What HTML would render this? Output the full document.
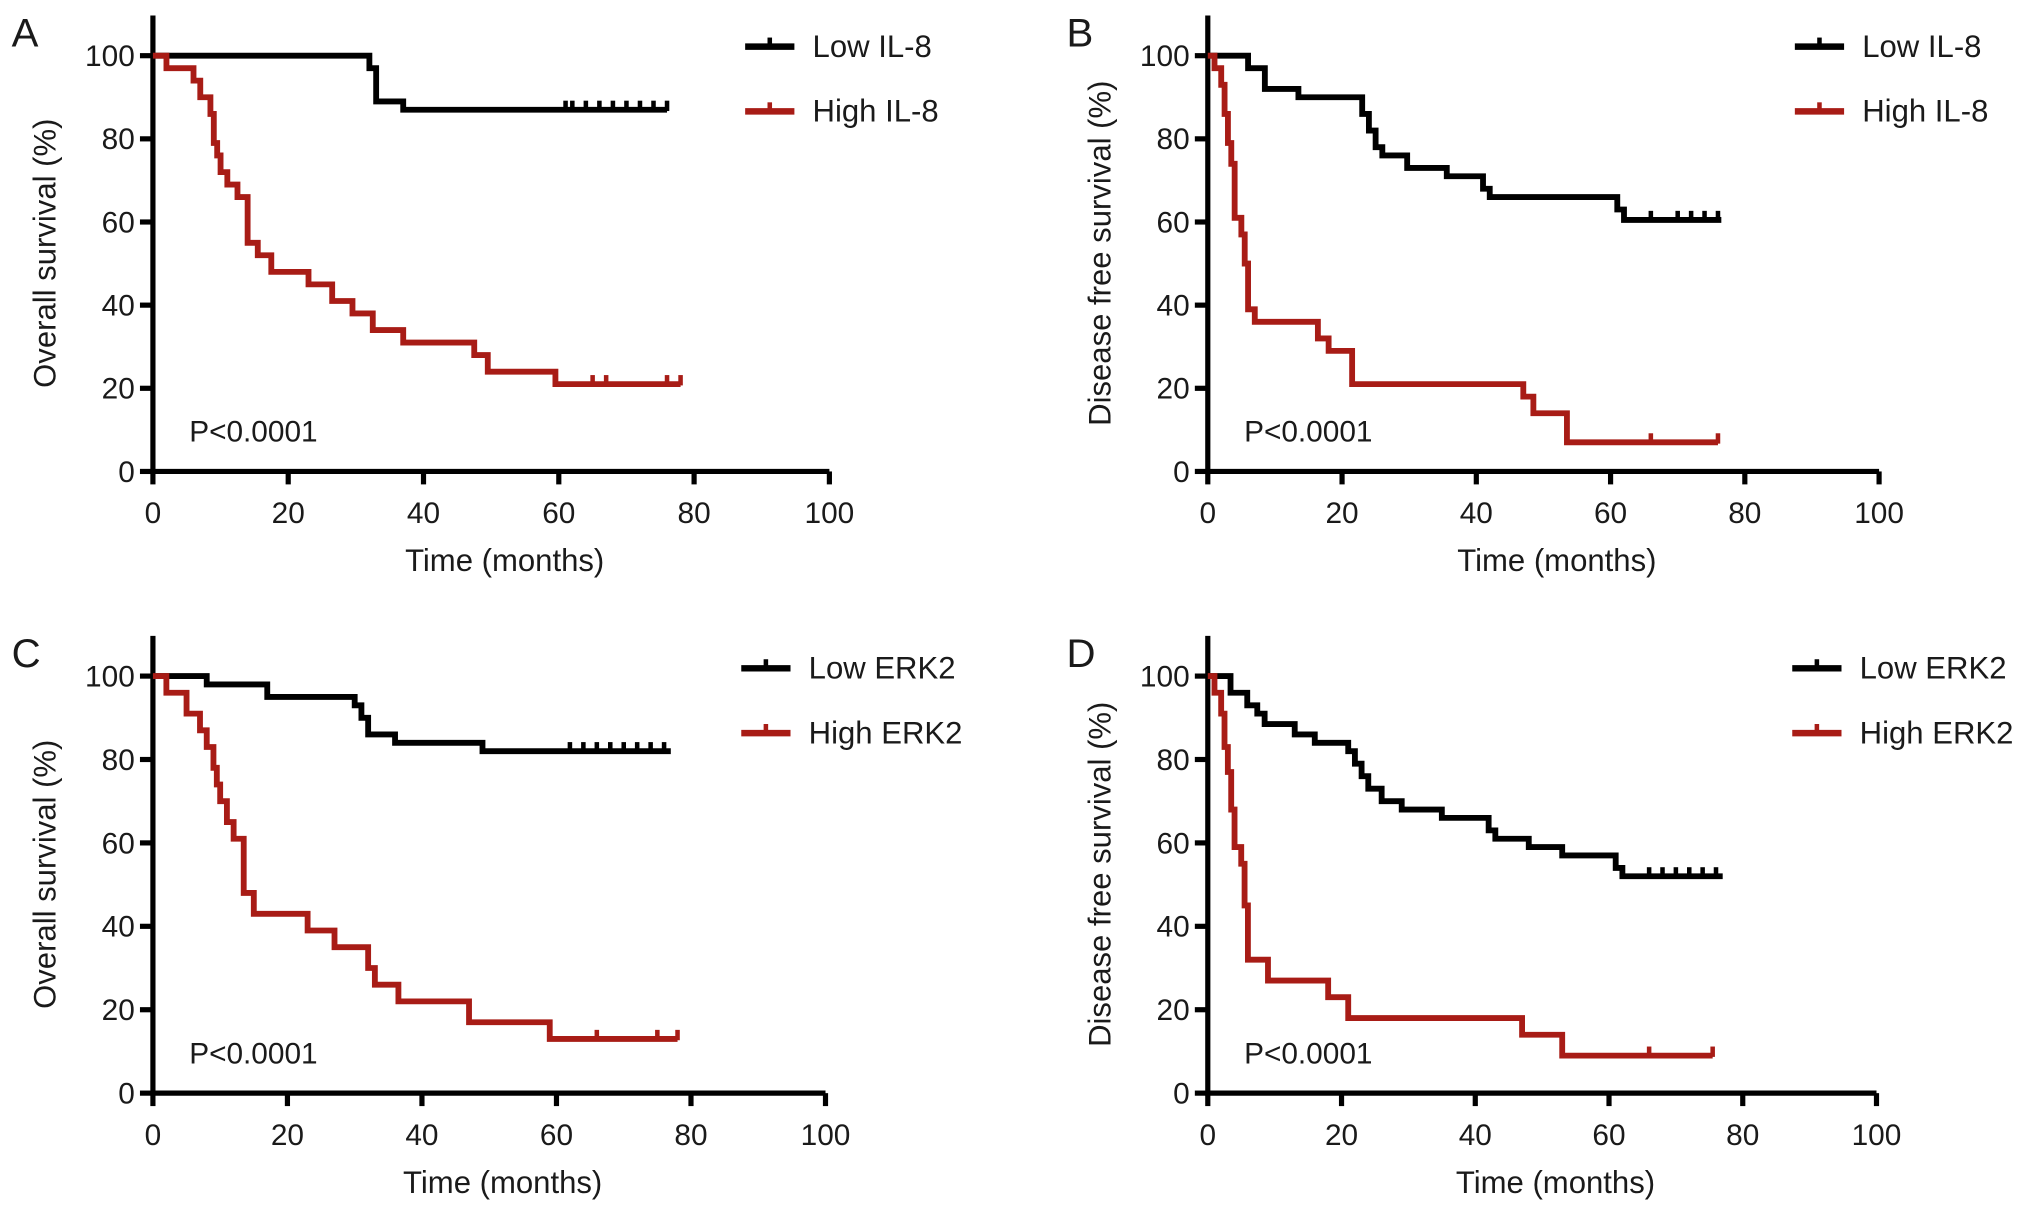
<!DOCTYPE html>
<html><head><meta charset="utf-8"><style>
html,body{margin:0;padding:0;background:#fff}
svg{display:block}
text{font-family:"Liberation Sans",Arial,sans-serif;fill:#1a1a1a}
</style></head><body>
<svg id="fig" width="2032" height="1211" viewBox="0 0 1568 935" preserveAspectRatio="none" xmlns="http://www.w3.org/2000/svg"></svg>
<script>
// Panel A
const aLowT=[0,32,33,37,76];const aLowS=[100,97,89,87,87];const aLowC=[61,62,64,66,68,70,72,74,76];
const aHighT=[0,2,6,7,8.5,9,9.5,10,11,12.5,14,15.5,17.5,23,26.5,29.5,32.5,37,47.5,49.5,59.5,78];
const aHighS=[100,97,94,90,86,79,76,72,69,66,55,52,48,45,41,38,34,31,28,24,21,21];const aHighC=[65,67,76,78];
// Panel B
const bLowT=[0,6,8.5,13.5,23,24,25,26,29.7,35.6,41,42,61,62,76.5];
const bLowS=[100,97,92,90,86,82,78,76,73,71,68,66,63,60.5,60.5];const bLowC=[66,70,72,74,76];
const bHighT=[0,1,2,2.5,3,3.5,4,5,5.5,6,7,16.4,18,21.5,47,48.5,53.5,76];
const bHighS=[100,97,93,86,79,74,61,57,50,39,36,32,29,21,18,14,7,7];const bHighC=[66,76];
// Panel C
const cLowT=[0,8,17,30,31,32,36,49,77];const cLowS=[100,98,95,93,90,86,84,82,82];const cLowC=[62,64,66,68,70,72,74,76];
const cHighT=[0,2,5,7,8,9,9.5,10,11,12,13.5,15,23,27,32,33,36.5,47,59,78];
const cHighS=[100,96,91,87,83,78,74,70,65,61,48,43,39,35,30,26,22,17,13,13];const cHighC=[66,75,78];
// Panel D
const dLowT=[0,3.4,5.9,7.4,8.5,13,16,21,22,23,24,26,29,35,42,43,48,53,61,62,77];
const dLowS=[100,96,93,91,88.5,86,84,82,79,76,73,70,68,66,63,61,59,57,54,52,52];const dLowC=[66,68,70,72,74,76];
const dHighT=[0,1,2,2.5,3,3.5,4,5,5.5,6,9,18,21,47,53,75.5];
const dHighS=[100,96,91,83,77,68,59,55,45,32,27,23,18,14,9,9];const dHighC=[66,75.5];
const xTicks=[0,20,40,60,80,100];const yTicks=[0,20,40,60,80,100];

const NS="http://www.w3.org/2000/svg";const svg=document.getElementById('fig');
function mk(tag,attrs,parent){const e=document.createElementNS(NS,tag);for(const k in attrs)e.setAttribute(k,attrs[k]);(parent||svg).appendChild(e);return e;}
const RED="#a81c16";
function panel(p){
  const g=mk('g',{});
  
  
  const X=v=>p.x0+v*(p.x100-p.x0)/100, Y=v=>p.y0-v*(p.y0-p.y100)/100;
  const lt=mk('text',{x:p.x0-109,y:p.y100-7,'font-size':31},g);lt.textContent=p.letter;
  
  const ax=mk('path',{d:`M${p.x0},${p.y100-31}V${p.y0}H${X(100)}`,stroke:'#000','stroke-width':4,fill:'none'},g);
  
  xTicks.forEach(t=>{const l=mk('line',{x1:X(t),x2:X(t),y1:p.y0,y2:p.y0+10,stroke:'#000','stroke-width':4},g);
    
    const tx=mk('text',{x:X(t),y:p.y0+40,'font-size':23,'text-anchor':'middle'},g);tx.textContent=t;
    });
  yTicks.forEach(t=>{const l=mk('line',{x1:p.x0-10,x2:p.x0,y1:Y(t),y2:Y(t),stroke:'#000','stroke-width':4},g);
    
    const tx=mk('text',{x:p.x0-14,y:Y(t)+8,'font-size':23,'text-anchor':'end'},g);tx.textContent=t;
    });
  const xt=mk('text',{x:X(52),y:p.y0+77,'font-size':24,'text-anchor':'middle'},g);xt.textContent='Time (months)';
  
  const yc=(p.y0+p.y100)/2-8;
  const yt=mk('text',{x:0,y:0,'font-size':24,'text-anchor':'middle',transform:`translate(${p.x0-75},${yc}) rotate(-90)`},g);yt.textContent=p.ytitle;
  
  const pv=mk('text',{x:p.x0+28,y:p.y0-23,'font-size':23},g);pv.textContent='P<0.0001';
  
  [[p.lowT,p.lowS,p.lowC,'#000','low-curve'],[p.highT,p.highS,p.highC,RED,'high-curve']].forEach(([T,S,C,col,nm])=>{
    let d=`M${X(T[0])},${Y(S[0])}`;
    for(let i=1;i<T.length;i++){d+=`H${X(T[i])}V${Y(S[i])}`;}
    const path=mk('path',{d:d,stroke:col,'stroke-width':4.5,fill:'none'},g);
    
    C.forEach(c=>{let s=S[0];for(let i=0;i<T.length;i++){if(T[i]<=c)s=S[i];}
      const m=mk('line',{x1:X(c),x2:X(c),y1:Y(s)-7,y2:Y(s)+1,stroke:col,'stroke-width':3.5},g);
      });
  });
  [[p.lowLabel,'#000',0],[p.highLabel,RED,50]].forEach(([lab,col,dy])=>{
    const lg=mk('g',{},g);
    mk('line',{x1:p.lx,x2:p.lx+38,y1:p.ly+dy,y2:p.ly+dy,stroke:col,'stroke-width':5},lg);
    mk('line',{x1:p.lx+19,x2:p.lx+19,y1:p.ly+dy-7,y2:p.ly+dy,stroke:col,'stroke-width':3.5},lg);
    const t=mk('text',{x:p.lx+52,y:p.ly+dy+8,'font-size':24},lg);t.textContent=lab;});
}
panel({letter:'A',x0:118,x100:640,y0:364,y100:43,ytitle:'Overall survival (%)',lowT:aLowT,lowS:aLowS,lowC:aLowC,highT:aHighT,highS:aHighS,highC:aHighC,lx:575,ly:36,lowLabel:'Low IL-8',highLabel:'High IL-8'});
panel({letter:'B',x0:932,x100:1450,y0:364,y100:43,ytitle:'Disease free survival (%)',lowT:bLowT,lowS:bLowS,lowC:bLowC,highT:bHighT,highS:bHighS,highC:bHighC,lx:1385,ly:36,lowLabel:'Low IL-8',highLabel:'High IL-8'});
panel({letter:'C',x0:118,x100:637,y0:844,y100:522,ytitle:'Overall survival (%)',lowT:cLowT,lowS:cLowS,lowC:cLowC,highT:cHighT,highS:cHighS,highC:cHighC,lx:572,ly:516,lowLabel:'Low ERK2',highLabel:'High ERK2'});
panel({letter:'D',x0:932,x100:1448,y0:844,y100:522,ytitle:'Disease free survival (%)',lowT:dLowT,lowS:dLowS,lowC:dLowC,highT:dHighT,highS:dHighS,highC:dHighC,lx:1383,ly:516,lowLabel:'Low ERK2',highLabel:'High ERK2'});
</script>
</body></html>
